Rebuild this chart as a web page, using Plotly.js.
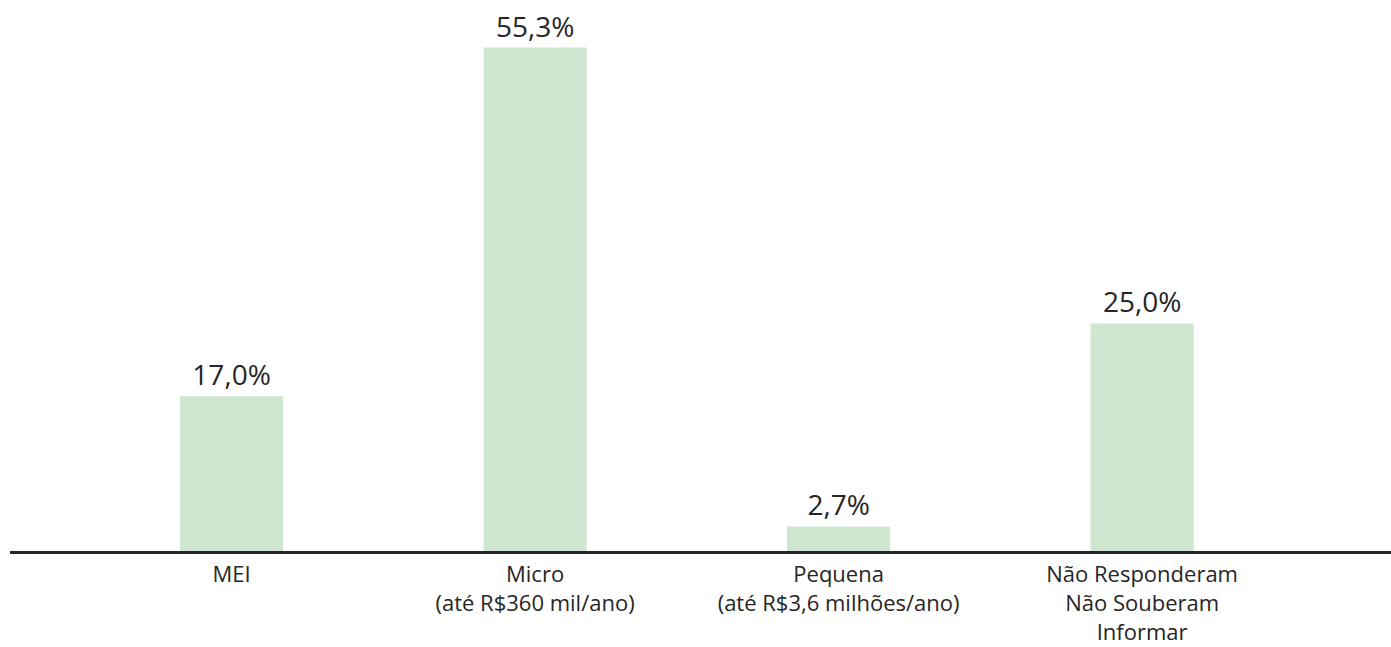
<!DOCTYPE html>
<html>
<head>
<meta charset="utf-8">
<script src="https://cdn.plot.ly/plotly-3.0.1.min.js"></script>
<style>html,body{margin:0;padding:0;background:#fff;}#chart{width:1391px;height:647px;}</style>
</head>
<body>
<div id="chart"></div>
<script>
const categories = ["MEI", "Micro<br>(até R$360 mil/ano)", "Pequena<br>(até R$3,6 milhões/ano)", "Não Responderam<br>Não Souberam<br>Informar"];
const values = [17.0, 55.3, 2.7, 25.0];
const valueLabels = values.map(v => v.toFixed(1).replace('.', ',') + '%');

const trace = {
  type: 'bar',
  x: categories,
  y: values,
  text: valueLabels,
  textposition: 'outside',
  cliponaxis: false,
  textfont: {family: 'Open Sans, sans-serif', size: 28, color: '#262626'},
  marker: {color: '#cfe7d0'},
  width: 0.34,
  hoverinfo: 'none'
};

const layout = {
  width: 1391, height: 647,
  margin: {l: 10, r: 0, t: 23, b: 96},
  paper_bgcolor: '#ffffff', plot_bgcolor: '#ffffff',
  showlegend: false,
  xaxis: {
    type: 'category',
    range: [-0.73, 3.82],
    showline: true, linecolor: '#262626', linewidth: 3,
    ticks: '', showgrid: false, zeroline: false,
    tickfont: {family: 'Open Sans, sans-serif', size: 22, color: '#262626'},
    ticklabelstandoff: 2
  },
  yaxis: {
    range: [0, 58],
    visible: false, showgrid: false, zeroline: false
  }
};

Plotly.newPlot('chart', [trace], layout, {displayModeBar: false, staticPlot: true});
</script>
</body>
</html>
